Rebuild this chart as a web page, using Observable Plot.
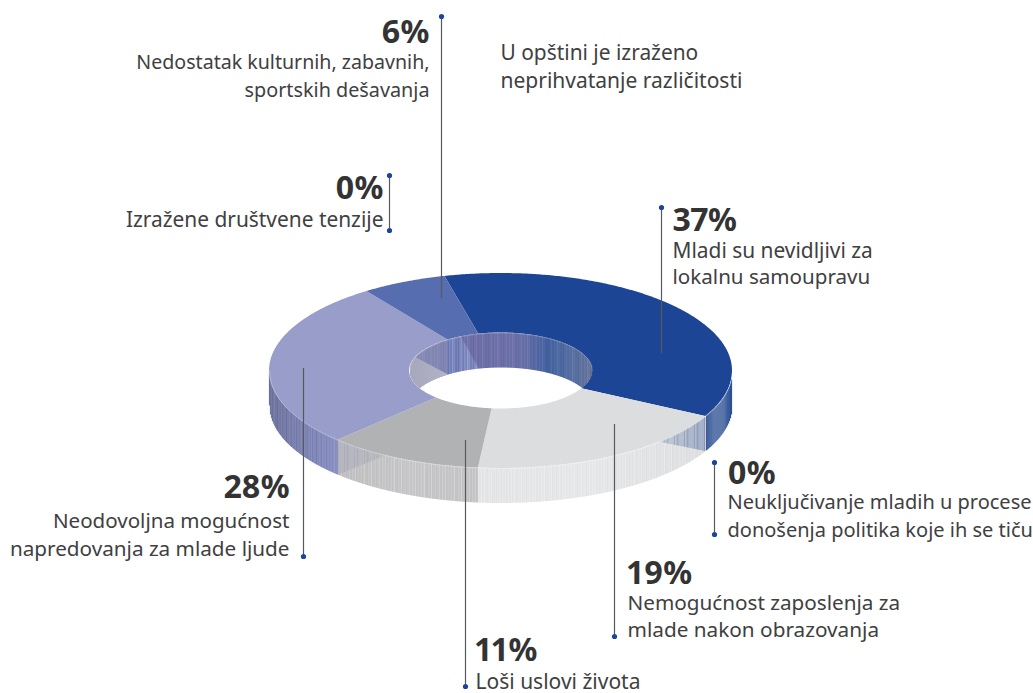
<!DOCTYPE html>
<html>
<head>
<meta charset="utf-8">
<script src="https://cdn.jsdelivr.net/npm/d3@7"></script>
<script src="https://cdn.jsdelivr.net/npm/@observablehq/plot@0.6"></script>
<style>
html,body{margin:0;padding:0;background:#fff}
svg{display:block}
</style>
</head>
<body>
<div id="chart"></div>
<script>
// ---- data ----
const slices = ["Mladi su nevidljivi", "Nemogućnost zaposlenja", "Loši uslovi života", "Neodovoljna mogućnost", "Nedostatak dešavanja"];
const sliceValues = [37, 19, 11, 28, 6];
const faceColors = ["#1d4595", "#dcddde", "#b1b2b4", "#989dca", "#566db0"];

// ---- wall shading (one ramp per slice, left to right) ----
const outerWallRamps = [
  ["#3a5a9c", "#5f7aad", "#5a76aa", "#20468f"],
  ["#e4e5e6", "#e6e7e8", "#dedfe1"],
  ["#bfbfc1", "#c6c6c8", "#c4c4c6"],
  ["#70769f", "#7f85b7", "#8c93c6"],
  ["#566db0", "#566db0"]
];
const innerWallRamps = [
  ["#6e70a8", "#6e72ab", "#6a72ab", "#4463a3", "#5570a4", "#68769c"],
  ["#dcddde", "#dcddde"],
  ["#b1b2b4", "#b1b2b4"],
  ["#8c8fb6", "#7f85b5"],
  ["#7383c0", "#8a90c8"]
];
const stripePattern = [0,.5,-.4,.1,.9,-.2,0,-.6,.3,.2,-.3,1,-.5,.1,0,.4,-.7,.2,-.1,.7,0,-.4,.5,.1,-.2,.8,-.5,0,.3,-.3];
const outerStripe = [.05, .30, .30, .16, 0];
const outerDarken = [1, .08, .12, 1, 1];
const innerStripe = [.10, 0, 0, .06, .22];

// ---- annotations ----
const percents = ["6%", "0%", "37%", "0%", "19%", "11%", "28%"];
const percentX = [429, 383, 672, 727, 627, 475, 289];
const percentY = [42, 198, 230, 483, 583, 660, 497];
const percentAnchor = ["end", "end", "start", "start", "start", "start", "end"];
const labelLines = [
  "Nedostatak kulturnih, zabavnih,", "sportskih dešavanja",
  "U opštini je izraženo", "neprihvatanje različitosti",
  "Izražene društvene tenzije",
  "Mladi su nevidljivi za", "lokalnu samoupravu",
  "Neuključivanje mladih u procese", "donošenja politika koje ih se tiču",
  "Nemogućnost zaposlenja za", "mlade nakon obrazovanja",
  "Loši uslovi života",
  "Neodovoljna mogućnost", "napredovanja za mlade ljude"
];
const labelX = [429, 429, 500, 500, 383, 672, 672, 727, 727, 627, 627, 475, 289, 289];
const labelY = [68, 96, 59, 87, 226, 257, 283, 508, 536, 609, 636, 688, 527, 555];
const labelAnchor = ["end","end","start","start","end","start","start","start","start","start","start","start","end","end"];
const labelSize = [19.6, 19.8, 20.9, 21, 20.9, 20.9, 20.6, 20, 20, 20.7, 20.75, 21, 20.55, 20.7];
const leaderX = [441, 389, 661, 714, 614, 465, 303];
const leaderTop = [16, 175, 207, 462, 424, 440, 368];
const leaderBottom = [298, 230, 353, 534, 636, 686, 556];
const leaderDotsTop = [true, true, true, true, false, false, false];
const leaderDotsBottom = [false, true, false, true, true, true, true];

// ---- donut geometry ----
const W = 1033, H = 693;
const cx = 500.5, cy = 370.5, rx = 231.5, ry = 97.5, irx = 91.5, iry = 38, depth = 35;
const startAngle = -14;
const rad = a => a * Math.PI / 180;
const total = d3.sum(sliceValues);
let acc = startAngle;
const sliceTable = slices.map((name, i) => {
  const a0 = acc, a1 = acc + sliceValues[i] / total * 360;
  acc = a1;
  return {name, i, a0, a1, fill: faceColors[i]};
});
const px = (a, r) => cx + r * Math.sin(rad(a));
const py = (a, r) => cy - r * Math.cos(rad(a));

// top face of each slice
const faceRows = sliceTable.flatMap(s => {
  const n = Math.ceil((s.a1 - s.a0) * 2);
  return d3.range(n + 1).map(k => {
    const a = s.a0 + (s.a1 - s.a0) * k / n;
    return {slice: s.name, fill: s.fill, x1: px(a, rx), y1: py(a, ry), x2: px(a, irx), y2: py(a, iry)};
  });
});

const norm = a => ((a - startAngle) % 360 + 360) % 360 + startAngle;
const sliceAt = a => sliceTable.find(s => norm(a) >= s.a0 && norm(a) < s.a1) || sliceTable[sliceTable.length - 1];
const stripeMix = (color, p, k) => d3.interpolateRgb(color, p > 0 ? "#fff" : "#000")(Math.abs(p) * k);
const ramp = stops => d3.piecewise(d3.interpolateRgb, stops);

// outer wall, front half, one column per pixel
const frontAngle = x => 180 - Math.asin(Math.max(-1, Math.min(1, (x - cx) / rx))) * 180 / Math.PI;
const rimY = x => cy + ry * Math.sqrt(Math.max(0, 1 - ((x - cx) / rx) ** 2));
const xFront = a => px(a, rx);
const spanRange = s => {
  const lo = Math.max(s.a0, 90), hi = Math.min(s.a1, 270);
  return [xFront(hi), xFront(lo)];
};
const outerCols = d3.range(Math.ceil(cx - rx), Math.floor(cx + rx)).map(x => {
  const s = sliceAt(frontAngle(x));
  const [l, r] = spanRange(s);
  const t = Math.max(0, Math.min(1, (x - l) / (r - l)));
  const p = stripePattern[x % stripePattern.length];
  const k = p > 0 ? outerStripe[s.i] * (s.i === 0 || s.i === 3 ? .5 : 1) : outerStripe[s.i] * outerDarken[s.i];
  return {x, y1: rimY(x), y2: rimY(x) + depth, shade: stripeMix(ramp(outerWallRamps[s.i])(t), p, k)};
});

// reflections of the neighbouring slice on the outer wall
const sweep = 19;
const grayEnd = sliceTable[2].a1, lightStart = sliceTable[1].a0;
function outerReflection(aEdge, aTip, c0, c1, k) {
  const xa = xFront(aEdge), xb = xFront(aTip);
  return d3.range(Math.ceil(Math.min(xa, xb)), Math.floor(Math.max(xa, xb))).map(x => {
    const t = (x - xa) / (xb - xa);
    const low = rimY(xa) + depth + (rimY(xb) - rimY(xa) - depth) * t;
    const p = stripePattern[(x * 3) % stripePattern.length];
    return {x, y1: rimY(x), y2: low, shade: stripeMix(d3.interpolateRgb(c0, c1)(t), p, k)};
  });
}
const wallReflections = [
  ...outerReflection(grayEnd, grayEnd - 15, "#b4b5c0", "#bcbcc2", .12),
  ...outerReflection(lightStart, lightStart + sweep, "#a2afca", "#c4ccda", .28)
];

// inner wall, back half, one column per pixel
const backAngle = x => Math.asin(Math.max(-1, Math.min(1, (x - cx) / irx))) * 180 / Math.PI;
const holeBack = x => cy - iry * Math.sqrt(Math.max(0, 1 - ((x - cx) / irx) ** 2));
const holeFront = x => cy + iry * Math.sqrt(Math.max(0, 1 - ((x - cx) / irx) ** 2));
const holeLow = x => Math.min(holeBack(x) + depth, holeFront(x));
const xBack = a => px(a, irx);
const innerCols = d3.range(Math.ceil(cx - irx), Math.floor(cx + irx)).map(x => {
  const s = sliceAt(backAngle(x));
  const lo = Math.max(s.a0, -90), hi = Math.min(s.a1, 90);
  const l = s.a0 > 90 ? xBack(s.a0 - 360 < -90 ? -90 : s.a0 - 360) : xBack(lo);
  const r = s.a0 > 90 ? xBack(s.a1 - 360) : xBack(hi);
  const t = Math.max(0, Math.min(1, (x - l) / (r - l)));
  const p = stripePattern[(x * 2) % stripePattern.length];
  return {x, y1: holeBack(x), y2: holeLow(x), shade: stripeMix(ramp(innerWallRamps[s.i])(t), p, innerStripe[s.i])};
});

// reflections on the inner wall
const lavenderEnd = sliceTable[3].a1 - 360, mediumEnd = sliceTable[4].a1 - 360;
const lavTip = lavenderEnd - 34;
const innerGray = d3.range(Math.ceil(cx - irx), Math.floor(xBack(lavenderEnd))).map(x => {
  const xa = xBack(lavTip), xb = xBack(lavenderEnd);
  const t = (x - xa) / (xb - xa);
  const d = holeBack(xa) + (holeBack(xb) + depth - holeBack(xa)) * t;
  return {x, y1: x < xa ? holeBack(x) : d, y2: holeLow(x), shade: d3.interpolateRgb("#a9a9bd", "#b4b4c8")(Math.max(0, t))};
}).filter(d => d.y2 > d.y1);
const medTip = mediumEnd - 12;
const innerPurple = d3.range(Math.ceil(xBack(medTip)), Math.ceil(xBack(mediumEnd))).map(x => {
  const xa = xBack(medTip), xb = xBack(mediumEnd);
  const t = (x - xa) / (xb - xa);
  const p = stripePattern[(x * 2) % stripePattern.length];
  return {x, y1: holeBack(x), y2: holeBack(xa) + (holeBack(xb) + depth - holeBack(xa)) * t, shade: stripeMix("#7072aa", p, .12)};
});

const rimLine = d3.range(Math.ceil(cx - rx), Math.floor(cx + rx) + 1).map(x => ({x, y: rimY(x)}));
const holeLine = d3.range(Math.ceil(cx - irx), Math.floor(cx + irx) + 1).map(x => ({x, y: holeBack(x)}));

const leaders = leaderX.map((x, i) => ({x, y1: leaderTop[i], y2: leaderBottom[i]}));
const dots = leaders.flatMap((d, i) => [
  ...(leaderDotsTop[i] ? [{x: d.x, y: d.y1}] : []),
  ...(leaderDotsBottom[i] ? [{x: d.x, y: d.y2}] : [])
]);
const percentRows = percents.map((t, i) => ({t, x: percentX[i], y: percentY[i], a: percentAnchor[i]}));
const labelRows = labelLines.map((t, i) => ({t, x: labelX[i], y: labelY[i], a: labelAnchor[i], s: labelSize[i]}));

const anchored = (rows, opts) => ["start", "end"].map(a =>
  Plot.text(rows.filter(d => d.a === a), {x: "x", y: "y", text: "t", textAnchor: a, lineAnchor: "bottom", ...opts}));
const labelMarks = d3.groups(labelRows, d => d.s).flatMap(([s, rows]) => anchored(rows, {fontSize: s, fill: "#404041"}));

const chart = Plot.plot({
  width: W, height: H,
  margin: 0,
  x: {domain: [0, W], range: [0, W], axis: null},
  y: {domain: [0, H], range: [0, H], axis: null},
  color: {type: "identity"},
  style: {background: "transparent", fontFamily: "'Noto Sans', sans-serif"},
  marks: [
    Plot.ruleX(outerCols, {x: "x", y1: "y1", y2: "y2", stroke: "shade", strokeWidth: 1.2}),
    Plot.ruleX(wallReflections, {x: "x", y1: "y1", y2: "y2", stroke: "shade", strokeWidth: 1.2}),
    Plot.area(faceRows, {x1: "x1", y1: "y1", x2: "x2", y2: "y2", z: "slice", fill: "fill", curve: "linear"}),
    Plot.ruleX(innerCols, {x: "x", y1: "y1", y2: "y2", stroke: "shade", strokeWidth: 1.2}),
    Plot.ruleX(innerGray, {x: "x", y1: "y1", y2: "y2", stroke: "shade", strokeWidth: 1.2}),
    Plot.ruleX(innerPurple, {x: "x", y1: "y1", y2: "y2", stroke: "shade", strokeWidth: 1.2}),
    Plot.line(rimLine, {x: "x", y: "y", stroke: "#fff", strokeOpacity: .45, strokeWidth: .7}),
    Plot.line(holeLine, {x: "x", y: "y", stroke: "#fff", strokeOpacity: .35, strokeWidth: .6}),
    Plot.ruleX(leaders, {x: "x", y1: "y1", y2: "y2", stroke: "#58595b", strokeWidth: 1.2}),
    Plot.dot(dots, {x: "x", y: "y", r: 2.6, fill: "#1c4595", stroke: "none"}),
    ...anchored(percentRows, {fontSize: 32, fontWeight: 700, fill: "#333", fontVariant: "proportional-nums"}),
    ...labelMarks
  ]
});
document.getElementById("chart").append(chart);
</script>
</body>
</html>
